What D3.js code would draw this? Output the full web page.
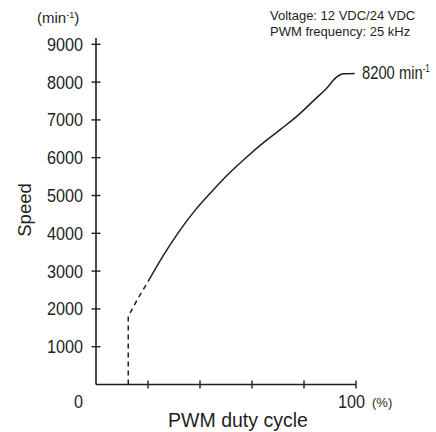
<!DOCTYPE html>
<html>
<head>
<meta charset="UTF-8">
<script src="https://d3js.org/d3.v7.min.js"></script>
<style>
  body { margin: 0; background: #fff; }
  text { fill: #231f20; font-family: 'Liberation Sans', Arial, sans-serif; }
</style>
</head>
<body>
<svg id="chart" width="436" height="432"></svg>
<script>
// data
const yTicks = [1000, 2000, 3000, 4000, 5000, 6000, 7000, 8000, 9000];
const xTicks = [20, 40, 60, 80, 100];

// dashed low-duty section
const dashDuty  = [12.4, 12.4, 16, 20];
const dashSpeed = [0, 1800, 2260, 2720];

// solid curve
const duty  = [20, 24, 28, 32, 38, 45, 52, 58, 65, 71, 78, 84, 89, 92.5, 95, 99.5];
const speed = [2720, 3200, 3640, 4050, 4600, 5140, 5640, 6020, 6430, 6750, 7140, 7530, 7860, 8130, 8220, 8230];

const ink = "#231f20";
const svg = d3.select("#chart");

const x = d3.scaleLinear().domain([0, 100]).range([96, 356]);
const y = d3.scaleLinear().domain([0, 9000]).range([384.5, 44.3]);

// condensed-looking text: squeeze horizontally
function cond(px, py, size, sx, anchor, str) {
  return svg.append("text")
    .attr("transform", `translate(${px},${py}) scale(${sx},1)`)
    .attr("text-anchor", anchor || "start")
    .style("font-size", size + "px")
    .text(str);
}

// axes
svg.append("line").attr("x1", x(0)).attr("x2", x(0)).attr("y1", 38).attr("y2", y(0))
   .attr("stroke", ink).attr("stroke-width", 1.6);
svg.append("line").attr("x1", x(0)).attr("x2", x(100)).attr("y1", y(0)).attr("y2", y(0))
   .attr("stroke", ink).attr("stroke-width", 1.6);

svg.selectAll(".yt").data(yTicks).enter().append("line")
   .attr("x1", x(0) - 4.5).attr("x2", x(0) + 4.5)
   .attr("y1", d => y(d)).attr("y2", d => y(d))
   .attr("stroke", ink).attr("stroke-width", 1.4);

yTicks.forEach(d => cond(83, y(d) + 6.5, 18, 0.9, "end", d));

svg.selectAll(".xt").data(xTicks).enter().append("line")
   .attr("x1", d => x(d)).attr("x2", d => x(d))
   .attr("y1", y(0) - 4).attr("y2", y(0) + 4)
   .attr("stroke", ink).attr("stroke-width", 1.4);

cond(83, 408, 18, 0.9, "end", "0");
cond(365, 408, 18, 0.9, "end", "100");
svg.append("text").attr("x", 372).attr("y", 407)
   .style("font-size", "13px").text("(%)");

// unit
const unit = svg.append("text").attr("x", 37).attr("y", 23)
   .style("font-size", "15px");
unit.append("tspan").text("(min");
unit.append("tspan").attr("dy", -5).style("font-size", "9px").text("-1");
unit.append("tspan").attr("dy", 5).text(")");

// axis titles
svg.append("text").attr("transform", "translate(31,210) rotate(-90)")
   .attr("text-anchor", "middle")
   .style("font-size", "18.5px").text("Speed");
svg.append("text").attr("x", 238).attr("y", 427).attr("text-anchor", "middle")
   .style("font-size", "19.5px").text("PWM duty cycle");

// conditions
svg.append("text").attr("x", 270).attr("y", 19.5)
   .style("font-size", "13px").text("Voltage: 12 VDC/24 VDC");
svg.append("text").attr("x", 270).attr("y", 36)
   .style("font-size", "13px").text("PWM frequency: 25 kHz");

// curves
const line = d3.line().x(d => x(d[0])).y(d => y(d[1])).curve(d3.curveMonotoneX);
const lineLin = d3.line().x(d => x(d[0])).y(d => y(d[1]));

svg.append("path").datum(d3.zip(dashDuty, dashSpeed)).attr("d", lineLin)
   .attr("fill", "none").attr("stroke", ink).attr("stroke-width", 1.5)
   .attr("stroke-dasharray", "5,4");

svg.append("path").datum(d3.zip(duty, speed)).attr("d", line)
   .attr("fill", "none").attr("stroke", ink).attr("stroke-width", 1.5);

// end label
const lab = svg.append("text")
   .attr("transform", `translate(362,${y(8230) + 6}) scale(0.82,1)`)
   .style("font-size", "18px");
lab.append("tspan").text("8200 min");
lab.append("tspan").attr("dy", -7).style("font-size", "10px").text("-1");
</script>
</body>
</html>
